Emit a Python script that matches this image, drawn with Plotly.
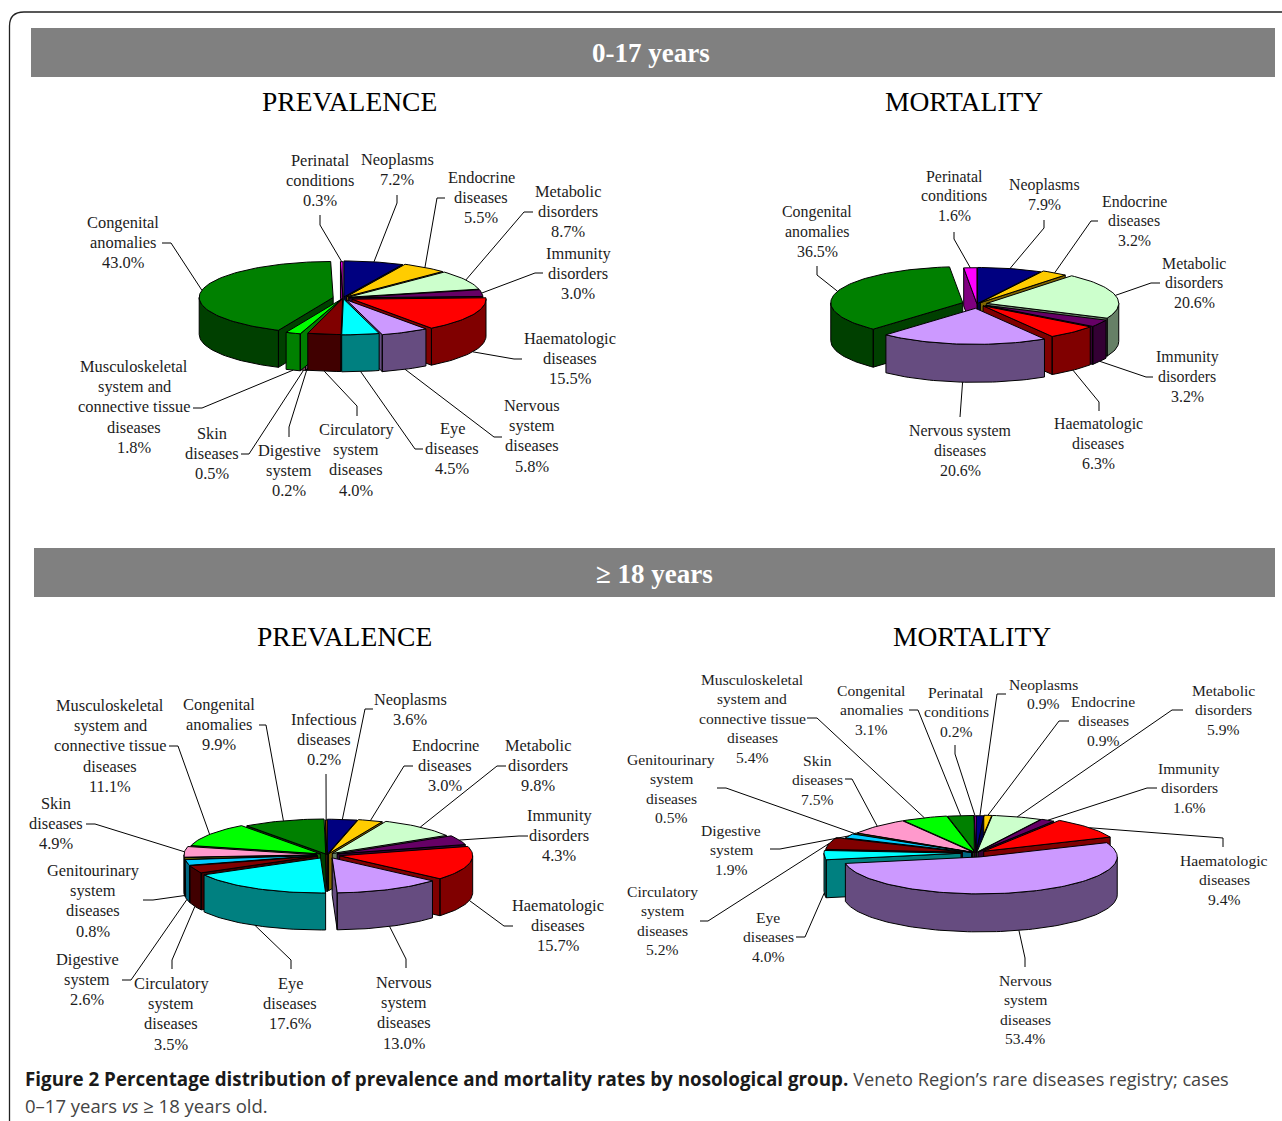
import math
import plotly.graph_objects as go

# ---------- data ----------
NAMES_A = ["Neoplasms", "Endocrine", "Metabolic", "Immunity", "Haematologic", "Nervous", "Eye",
           "Circulatory", "Digestive", "Skin", "Musculoskeletal", "Congenital", "Perinatal"]
VALUES_A = [7.2, 5.5, 8.7, 3.0, 15.5, 5.8, 4.5, 4.0, 0.2, 0.5, 1.8, 43.0, 0.3]

NAMES_B = ["Neoplasms", "Endocrine", "Metabolic", "Immunity", "Haematologic", "Nervous", "Congenital", "Perinatal"]
VALUES_B = [7.9, 3.2, 20.6, 3.2, 6.3, 20.6, 36.5, 1.6]

NAMES_C = ["Neoplasms", "Endocrine", "Metabolic", "Immunity", "Haematologic", "Nervous", "Eye", "Circulatory",
           "Digestive", "Genitourinary", "Skin", "Musculoskeletal", "Congenital", "Infectious"]
VALUES_C = [3.6, 3.0, 9.8, 4.3, 15.7, 13.0, 17.6, 3.5, 2.6, 0.8, 4.9, 11.1, 9.9, 0.2]

NAMES_D = ["Neoplasms", "Endocrine", "Metabolic", "Immunity", "Haematologic", "Nervous", "Eye", "Circulatory",
           "Digestive", "Genitourinary", "Skin", "Musculoskeletal", "Congenital", "Perinatal"]
VALUES_D = [0.9, 0.9, 5.9, 1.6, 9.4, 53.4, 4.0, 5.2, 1.9, 0.5, 7.5, 5.4, 3.1, 0.2]

# ---------- style ----------
COLORS = {
    "Neoplasms": ("#000080", "#000040"), "Endocrine": ("#FFCC00", "#806600"),
    "Metabolic": ("#CCFFCC", "#668066"), "Immunity": ("#660066", "#330033"),
    "Haematologic": ("#FF0000", "#800000"), "Nervous": ("#CC99FF", "#664C80"),
    "Eye": ("#00FFFF", "#008080"), "Circulatory": ("#800000", "#400000"),
    "Digestive": ("#00CCFF", "#006680"), "Genitourinary": ("#808000", "#404000"),
    "Skin": ("#FF99CC", "#804C66"), "Musculoskeletal": ("#00FF00", "#008000"),
    "Congenital": ("#008000", "#004000"), "Perinatal": ("#FF00FF", "#800080"),
    "Infectious": ("#FF6600", "#803300"),
}
SERIF = "Liberation Serif"
TEXT = "#1c1c1c"

# ---------- layout of each pie: centre, radii, depth, explosion per slice ----------
PIE_A = dict(cx=343, cy=298, a=134, b=36, d=37, font=16.4, step=20.4,
             explode=[4, 6, 6, 6, 10, 8, 3, 2, 2, 3, 6, 10, 1])
PIE_B = dict(cx=977, cy=304, a=132, b=36, d=38, font=15.9, step=19.7,
             explode=[2, 6, 10, 10, 9, 16, 15, 1])
PIE_C = dict(cx=327, cy=855, a=133, b=35, d=37, font=16.4, step=20.4,
             explode=[3, 5, 8, 11, 13, 12, 13, 10, 10, 10, 10, 8, 4, 0])
PIE_D = dict(cx=976, cy=853, a=137, b=37, d=38, font=15.6, step=19.6,
             explode=[1, 3, 3, 4, 10, 15, 15, 14, 5, 4, 3, 3, 2, 0])

# label table: name -> (centre x, first line y, lines above the percentage, leader points from the label side)
LABELS_A = {
    "Neoplasms": (397, 159, ["Neoplasms"], [(397, 195), (397, 203)]),
    "Endocrine": (481, 177, ["Endocrine", "diseases"], [(445, 198), (437, 198)]),
    "Metabolic": (568, 191, ["Metabolic", "disorders"], [(533, 212), (524, 212)]),
    "Immunity": (578, 253, ["Immunity", "disorders"], [(543, 273), (535, 273)]),
    "Haematologic": (570, 338, ["Haematologic", "diseases"], [(522, 359), (514, 359)]),
    "Nervous": (532, 405, ["Nervous", "system", "diseases"], [(502, 437), (494, 437)]),
    "Eye": (452, 428, ["Eye", "diseases"], [(423, 449), (415, 449)]),
    "Circulatory": (356, 429, ["Circulatory", "system", "diseases"], [(357, 416), (357, 406)]),
    "Digestive": (289, 450, ["Digestive", "system"], [(289, 437), (289, 427)]),
    "Skin": (212, 433, ["Skin", "diseases"], [(241, 454), (249, 454)]),
    "Musculoskeletal": (134, 366, ["Musculoskeletal", "system and", "connective tissue", "diseases"], [(193, 408), (202, 408)]),
    "Congenital": (123, 222, ["Congenital", "anomalies"], [(162, 243), (171, 243)]),
    "Perinatal": (320, 160, ["Perinatal", "conditions"], [(320, 215), (320, 225)]),
}
LABELS_B = {
    "Neoplasms": (1044, 185, ["Neoplasms"], [(1044, 220), (1044, 228)]),
    "Endocrine": (1134, 201, ["Endocrine", "diseases"], [(1098, 221), (1091, 221)]),
    "Metabolic": (1194, 263, ["Metabolic", "disorders"], [(1160, 283), (1151, 283)]),
    "Immunity": (1187, 357, ["Immunity", "disorders"], [(1153, 377), (1146, 377)]),
    "Haematologic": (1098, 424, ["Haematologic", "diseases"], [(1099, 411), (1099, 402)]),
    "Nervous": (960, 431, ["Nervous system", "diseases"], [(960, 417)]),
    "Congenital": (817, 212, ["Congenital", "anomalies"], [(817, 266), (817, 275)]),
    "Perinatal": (954, 176, ["Perinatal", "conditions"], [(954, 232), (954, 239)]),
}
LABELS_C = {
    "Neoplasms": (410, 699, ["Neoplasms"], [(373, 709), (365, 709)]),
    "Endocrine": (445, 745, ["Endocrine", "diseases"], [(413, 766), (404, 766)]),
    "Metabolic": (538, 745, ["Metabolic", "disorders"], [(506, 766), (497, 766)]),
    "Immunity": (559, 815, ["Immunity", "disorders"], [(528, 836), (519, 836)]),
    "Haematologic": (558, 905, ["Haematologic", "diseases"], [(513, 926), (504, 926)]),
    "Nervous": (404, 982, ["Nervous", "system", "diseases"], [(406, 968), (406, 959)]),
    "Eye": (290, 983, ["Eye", "diseases"], [(291, 969), (291, 960)]),
    "Circulatory": (171, 983, ["Circulatory", "system", "diseases"], [(172, 969), (172, 960)]),
    "Digestive": (87, 959, ["Digestive", "system"], [(122, 980), (131, 980)]),
    "Genitourinary": (93, 870, ["Genitourinary", "system", "diseases"], [(143, 900), (153, 900)]),
    "Skin": (56, 803, ["Skin", "diseases"], [(86, 824), (95, 824)]),
    "Musculoskeletal": (110, 705, ["Musculoskeletal", "system and", "connective tissue", "diseases"], [(169, 746), (178, 746)]),
    "Congenital": (219, 704, ["Congenital", "anomalies"], [(259, 725), (266, 725)]),
    "Infectious": (324, 719, ["Infectious", "diseases"], [(326, 774)]),
}
LABELS_D = {
    "Neoplasms": (1043, 684, ["Neoplasms"], [(1006, 694), (997, 694)]),
    "Endocrine": (1103, 701, ["Endocrine", "diseases"], [(1069, 721), (1059, 721)]),
    "Metabolic": (1223, 690, ["Metabolic", "disorders"], [(1183, 710), (1172, 710)]),
    "Immunity": (1189, 768, ["Immunity", "disorders"], [(1157, 788), (1147, 788)]),
    "Haematologic": (1224, 860, ["Haematologic", "diseases"], [(1223, 847), (1223, 838)]),
    "Nervous": (1025, 980, ["Nervous", "system", "diseases"], [(1025, 967), (1025, 958)]),
    "Eye": (768, 917, ["Eye", "diseases"], [(796, 937), (805, 937)]),
    "Circulatory": (662, 891, ["Circulatory", "system", "diseases"], [(700, 921), (708, 921)]),
    "Digestive": (731, 830, ["Digestive", "system"], [(770, 849), (780, 849)]),
    "Genitourinary": (671, 759, ["Genitourinary", "system", "diseases"], [(717, 788), (726, 788)]),
    "Skin": (817, 760, ["Skin", "diseases"], [(845, 779), (852, 779)]),
    "Musculoskeletal": (752, 679, ["Musculoskeletal", "system and", "connective tissue", "diseases"], [(807, 718), (817, 718)]),
    "Congenital": (871, 690, ["Congenital", "anomalies"], [(909, 710), (918, 710)]),
    "Perinatal": (956, 692, ["Perinatal", "conditions"], [(955, 745), (955, 754)]),
}

fig = go.Figure()
annotations = []


def add_text(x, y, text, size, color=TEXT, family=SERIF, xanchor="center"):
    annotations.append(dict(x=x, y=y, xref="x", yref="y", text=text, showarrow=False, xanchor=xanchor,
                            yanchor="middle", align="left" if xanchor == "left" else "center",
                            font=dict(family=family, size=size, color=color)))


def add_poly(xs, ys, fill, name):
    fig.add_trace(go.Scatter(x=xs, y=ys, mode="lines", fill="toself", fillcolor=fill,
                             line=dict(color="#000000", width=1), hoverinfo="skip", name=name))


def draw_pie(names, values, pie, labels):
    total = sum(values)
    cx, cy, a, b, d = pie["cx"], pie["cy"], pie["a"], pie["b"], pie["d"]
    slices = []
    run = 0.0
    for name, val, e in zip(names, values, pie["explode"]):
        t1 = 2 * math.pi * run / total
        run += val
        t2 = 2 * math.pi * run / total
        mid = (t1 + t2) / 2
        ox = cx + e * math.sin(mid)
        oy = cy - e * (b / a) * math.cos(mid)
        slices.append(dict(name=name, val=val, t1=t1, t2=t2, mid=mid, ox=ox, oy=oy))

    def px(s, t):
        return s["ox"] + a * math.sin(t), s["oy"] - b * math.cos(t)

    for s in sorted(slices, key=lambda q: q["oy"] - b * 0.6 * math.cos(q["mid"])):
        top, wall = COLORS[s["name"]]
        t1, t2 = s["t1"], s["t2"]
        n = max(2, int((t2 - t1) / 0.03))
        arc = [t1 + (t2 - t1) * i / n for i in range(n + 1)]
        wx, wy = [], []
        # radial cut faces that look towards the viewer
        for t, visible in ((t1, math.sin(t1) < 0), (t2, math.sin(t2) > 0)):
            if visible:
                rx, ry = px(s, t)
                wx += [s["ox"], rx, rx, s["ox"], s["ox"], None]
                wy += [s["oy"], ry, ry + d, s["oy"] + d, s["oy"], None]
        # outer wall, front half only
        lo, hi = max(t1, math.pi / 2), min(t2, 3 * math.pi / 2)
        if hi > lo:
            m = max(2, int((hi - lo) / 0.03))
            ts = [lo + (hi - lo) * i / m for i in range(m + 1)]
            upper = [px(s, t) for t in ts]
            wx += [p[0] for p in upper] + [p[0] for p in reversed(upper)] + [upper[0][0], None]
            wy += [p[1] for p in upper] + [p[1] + d for p in reversed(upper)] + [upper[0][1], None]
        if wx:
            add_poly(wx, wy, wall, s["name"] + " wall")
        rim = [px(s, t) for t in arc]
        add_poly([s["ox"]] + [p[0] for p in rim] + [s["ox"]],
                 [s["oy"]] + [p[1] for p in rim] + [s["oy"]], top, s["name"])

    for s in slices:
        lx, ly, lines, elbow = labels[s["name"]]
        rx, ry = px(s, s["mid"])
        if math.cos(s["mid"]) < 0:
            ry += d
        fig.add_trace(go.Scatter(x=[p[0] for p in elbow] + [rx], y=[p[1] for p in elbow] + [ry], mode="lines",
                                 line=dict(color="#000000", width=1), hoverinfo="skip", name=s["name"] + " leader"))
        for i, line in enumerate(lines + [f"{s['val']:.1f}%"]):
            add_text(lx, ly + i * pie["step"], line, pie["font"])


draw_pie(NAMES_A, VALUES_A, PIE_A, LABELS_A)
draw_pie(NAMES_B, VALUES_B, PIE_B, LABELS_B)
draw_pie(NAMES_C, VALUES_C, PIE_C, LABELS_C)
draw_pie(NAMES_D, VALUES_D, PIE_D, LABELS_D)

# ---------- headings ----------
add_text(651, 53, "<b>0-17 years</b>", 27, "#ffffff")
add_text(654, 574, "<b>≥ 18 years</b>", 27, "#ffffff")
add_text(349.5, 101, "PREVALENCE", 27.5, "#000000")
add_text(964, 101, "MORTALITY", 27.5, "#000000")
add_text(344, 636, "PREVALENCE", 27.5, "#000000")
add_text(972, 636, "MORTALITY", 27.5, "#000000")
add_text(23, 1079, "<span style='font-size:18.8px'><b>Figure 2 Percentage distribution of prevalence and mortality rates by nosological group.</b></span>"
         " <span style='color:#444444;font-size:18.2px'>Veneto Region’s rare diseases registry; cases</span>", 18.8, "#1a1a1a", "Open Sans", "left")
add_text(23, 1105, "0–17 years <i>vs</i> ≥ 18 years old.", 18.5, "#444444", "Open Sans", "left")

shapes = [
    dict(type="rect", x0=31, x1=1275, y0=28, y1=77, fillcolor="#808080", line_width=0, layer="below"),
    dict(type="rect", x0=34, x1=1275, y0=548, y1=597, fillcolor="#808080", line_width=0, layer="below"),
    dict(type="path", path="M 9.5 1121 L 9.5 26 Q 9.5 12 24 12 L 1282 12",
         line=dict(color="#222222", width=1.3), layer="below"),
]

fig.update_layout(
    width=1282, height=1121, margin=dict(l=0, r=0, t=0, b=0), showlegend=False,
    paper_bgcolor="#ffffff", plot_bgcolor="#ffffff",
    xaxis=dict(range=[0, 1282], visible=False, fixedrange=True),
    yaxis=dict(range=[1121, 0], visible=False, fixedrange=True),
    annotations=annotations, shapes=shapes,
)
fig.write_html("out.html", config={"displayModeBar": False}, post_script="document.body.style.margin='0';")
